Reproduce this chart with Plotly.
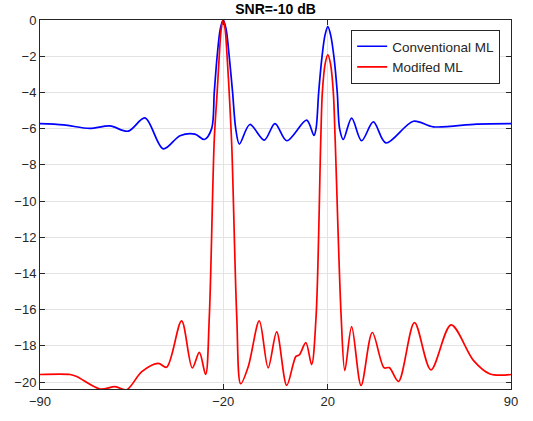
import plotly.graph_objects as go

# Conventional ML (blue)
conv_x = [-90, -81, -71, -63.3, -56.3, -49.9, -42.9, -36.5, -30.8, -27.2, -24.4, -23.4, -22.3,
          -21.1, -20, -18.9, -17.7, -16.4, -15.2, -13.8, -9.8, -4.3, -0.2, 4.3, 11.9, 14.7, 15.5,
          16.5, 17.8, 18.9, 20, 21.1, 22.3, 23.6, 24.5, 25.9, 29.1, 32.9, 37.4, 42.2, 52.7, 60.3,
          76.9, 90]
conv_y = [-5.72, -5.79, -5.99, -5.85, -6.14, -5.41, -7.12, -6.39, -6.30, -6.6, -6.0, -4.0, -2.0,
          -0.5, 0, -0.5, -2.0, -4.0, -6.0, -6.85, -5.77, -6.63, -5.72, -6.67, -5.53, -6.38, -6.0,
          -4.0, -2.0, -0.85, -0.37, -0.85, -2.0, -4.0, -6.0, -6.6, -5.42, -6.67, -5.63, -6.79,
          -5.59, -5.90, -5.75, -5.72]

# Modified ML (red)
mod_x = [-90, -78.5, -76, -67.1, -61.3, -56.9, -51.1, -44.8, -41.6, -35.9, -31.8, -29.1, -26.7,
         -25.3, -23.4, -22.3, -21.5, -20.75, -20, -19.25, -18.5, -17.7, -16.7, -14.8, -13.3,
         -10.4, -6.2, -2.8, 0.45, 4.3, 7.8, 9.1, 11.6, 13.8, 15.5, 17.3, 17.9, 19.0, 20, 21.0,
         22.1, 22.8, 25.1, 26.5, 29.1, 32.7, 37.0, 41.5, 43.5, 47.0, 53.1, 59.4, 67.1, 75.7,
         82.0, 90]
mod_y = [-19.58, -19.58, -19.69, -20.38, -20.25, -20.42, -19.42, -18.96, -19.18, -16.62, -19.21,
         -18.36, -19.58, -16.4, -6.6, -4.0, -2.0, -0.5, 0, -0.5, -2.0, -4.0, -7.0, -16.4, -20.09,
         -19.14, -16.62, -19.21, -17.22, -20.18, -18.58, -18.5, -17.82, -19.03, -16.4, -6.6, -4.0,
         -2.4, -1.92, -2.4, -4.0, -6.6, -16.4, -19.36, -16.93, -20.18, -17.26, -19.21, -19.2,
         -19.96, -16.71, -19.32, -16.84, -18.81, -19.55, -19.58]

x_ticks = [-90, -20, 20, 90]
y_ticks = list(range(0, -21, -2))

FONT = "Liberation Sans, Arial, sans-serif"

fig = go.Figure()
fig.add_trace(go.Scatter(x=conv_x, y=conv_y, mode="lines", name="Conventional ML",
                         line=dict(color="#0000ff", width=1.7, shape="spline", smoothing=0.9)))
fig.add_trace(go.Scatter(x=mod_x, y=mod_y, mode="lines", name="Modifed ML",
                         line=dict(color="#ff0000", width=1.7, shape="spline", smoothing=0.9)))

axis_common = dict(showline=True, linecolor="#262626", linewidth=1, mirror="ticks",
                   ticks="inside", ticklen=5, tickcolor="#262626",
                   showgrid=True, gridcolor="#e3e3e3", gridwidth=1, zeroline=False,
                   tickfont=dict(family=FONT, size=13, color="#262626"))

fig.update_layout(
    width=533, height=421,
    margin=dict(l=40, r=22, t=20, b=29),
    paper_bgcolor="white", plot_bgcolor="white",
    title=dict(text="<b>SNR=-10 dB</b>", x=0.517, xanchor="center", y=0.99, yanchor="top",
               font=dict(family=FONT, size=14, color="black")),
    xaxis=dict(range=[-90, 90], tickvals=x_ticks, **axis_common),
    yaxis=dict(range=[-20.38, 0], tickvals=y_ticks, **axis_common),
    legend=dict(x=0.977, y=0.973, xanchor="right", yanchor="top",
                bgcolor="white", bordercolor="#262626", borderwidth=1,
                font=dict(family=FONT, size=13.5, color="#262626"),
                tracegroupgap=0),
    showlegend=True,
)

fig.write_html("out.html")
